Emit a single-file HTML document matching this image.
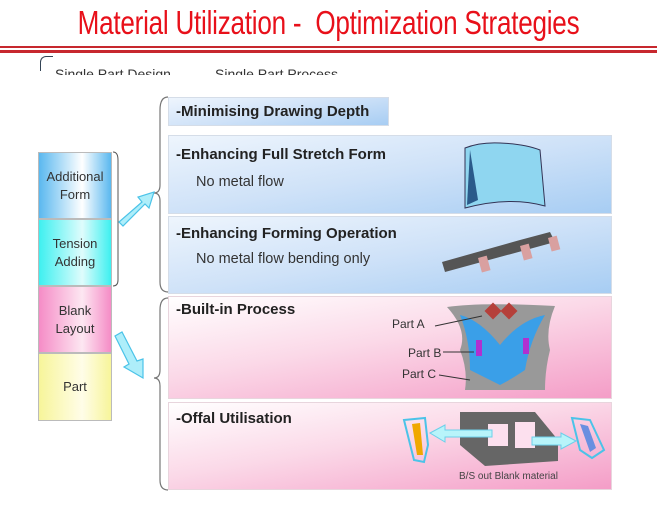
<!DOCTYPE html>
<html><head><style>
body{margin:0;width:657px;height:517px;background:#fff;position:relative;overflow:hidden;font-family:"Liberation Sans",sans-serif}
.a{position:absolute}
.t{font-weight:bold;font-size:15px;color:#222}
.s{font-size:14.5px;color:#333}
.blue{background:linear-gradient(170deg,#eef5fd 0%,#cfe2f8 50%,#a7cdf3 100%);border:1px solid #d5dde8}
.pink{background:linear-gradient(170deg,#fff 0%,#fbd9e8 45%,#f49dc7 100%);border:1px solid #e8d5dd}
.c{position:absolute;left:38px;width:74px;display:flex;align-items:center;justify-content:center;text-align:center;font-size:13px;color:#333;line-height:18px;border:1px solid #bbb;box-sizing:border-box}
</style></head><body>
<div class="a" style="left:0;top:4px;width:657px;text-align:center;color:#e8101a;font-size:33px;transform:scaleX(0.79);letter-spacing:-0.3px">Material Utilization -&nbsp; Optimization Strategies</div>
<div class="a" style="left:0;top:46px;width:657px;height:2px;background:#c7282e"></div>
<div class="a" style="left:0;top:50px;width:657px;height:3px;background:#c7282e"></div>
<div class="a" style="left:40px;top:56px;width:12px;height:14px;border-left:1px solid #345;border-top:1px solid #345;border-radius:6px 0 0 0"></div>
<div class="a" style="left:55px;top:65px;font-size:14px;color:#333;height:10px;overflow:hidden;line-height:18px">Single Part Design</div>
<div class="a" style="left:215px;top:65px;font-size:14px;color:#333;height:10px;overflow:hidden;line-height:18px">Single Part Process</div>

<div class="c" style="top:152px;height:67px;background:linear-gradient(90deg,#5ab8ef,#fff 60%,#5ab8ef)">Additional<br>Form</div>
<div class="c" style="top:219px;height:67px;background:linear-gradient(90deg,#3ef0f0,#dffcfc 60%,#3ef0f0)">Tension<br>Adding</div>
<div class="c" style="top:286px;height:67px;background:linear-gradient(90deg,#f58cc6,#fde7f2 60%,#f58cc6)">Blank<br>Layout</div>
<div class="c" style="top:353px;height:68px;background:linear-gradient(90deg,#f7f59a,#fffde8 60%,#f7f59a)">Part</div>

<svg class="a" style="left:0;top:0" width="657" height="517">
<path d="M113 152 Q118 152 118 160 L118 280 Q118 286 113 286" fill="none" stroke="#555" stroke-width="1"/>
<path d="M168 97 Q160 97 160 110 L160 185 Q160 193 154 193 Q160 193 160 201 L160 282 Q160 292 168 292" fill="none" stroke="#777" stroke-width="1.2"/>
<path d="M168 298 Q160 298 160 310 L160 370 Q160 378 154 378 Q160 378 160 386 L160 480 Q160 490 168 490" fill="none" stroke="#777" stroke-width="1.2"/>
<path d="M119 222 L142 202 L138 197 L154 192 L149 208 L145 204 L123 226 Z" fill="#aeeefa" stroke="#4bc3e8" stroke-width="1.2"/>
<path d="M115 336 L129 364 L124 367 L143 378 L143 359 L137 361 L122 332 Z" fill="#aeeefa" stroke="#4bc3e8" stroke-width="1.2"/>
</svg>

<div class="a blue" style="left:168px;top:97px;width:219px;height:27px"></div>
<div class="a t" style="left:176px;top:103px">-Minimising Drawing Depth</div>
<div class="a blue" style="left:168px;top:135px;width:442px;height:77px"></div>
<div class="a t" style="left:176px;top:146px">-Enhancing Full Stretch Form</div>
<div class="a s" style="left:196px;top:174px">No metal flow</div>
<div class="a blue" style="left:168px;top:216px;width:442px;height:76px"></div>
<div class="a t" style="left:176px;top:225px">-Enhancing Forming Operation</div>
<div class="a s" style="left:196px;top:251px">No metal flow bending only</div>
<div class="a pink" style="left:168px;top:296px;width:442px;height:101px"></div>
<div class="a t" style="left:176px;top:301px">-Built-in Process</div>
<div class="a pink" style="left:168px;top:402px;width:442px;height:86px"></div>
<div class="a t" style="left:176px;top:410px">-Offal Utilisation</div>

<svg class="a" style="left:0;top:0" width="657" height="517">
<path d="M465 148 Q480 142 500 143 Q525 144 540 150 L545 206 Q510 196 465 208 Z" fill="#8fd6f0" stroke="#335" stroke-width="1"/>
<path d="M470 150 L467 205 L478 200 Z" fill="#2a5a8a"/>
<path d="M442 262 L520 240 L550 232 L555 242 L445 272 Z" fill="#555"/>
<rect x="478" y="258" width="9" height="15" fill="#d9a0a0" transform="rotate(-15 478 258)"/>
<rect x="520" y="246" width="9" height="15" fill="#d9a0a0" transform="rotate(-15 520 246)"/>
<rect x="548" y="238" width="9" height="14" fill="#d9a0a0" transform="rotate(-15 548 238)"/>
<path d="M447 307 Q480 302 555 306 Q545 330 550 350 Q545 370 545 390 L465 390 Q468 370 460 350 Q468 330 447 307 Z" fill="#999"/>
<path d="M460 315 Q480 320 500 345 Q520 320 545 315 Q530 340 525 370 Q510 380 500 385 Q490 380 470 370 Q470 340 460 315 Z" fill="#3a9fe8"/>
<rect x="487" y="305" width="12" height="12" fill="#b5403a" transform="rotate(45 493 311)"/>
<rect x="503" y="305" width="12" height="12" fill="#b5403a" transform="rotate(45 509 311)"/>
<rect x="476" y="340" width="6" height="16" fill="#b030d0"/>
<rect x="523" y="338" width="6" height="16" fill="#b030d0"/>
<line x1="435" y1="326" x2="482" y2="316" stroke="#333"/>
<line x1="443" y1="352" x2="474" y2="352" stroke="#333"/>
<line x1="439" y1="375" x2="470" y2="380" stroke="#333"/>
<path d="M460 412 L535 412 L558 440 L558 461 L485 466 L460 445 Z" fill="#666"/>
<rect x="488" y="424" width="20" height="22" fill="#fce0ee"/>
<rect x="515" y="422" width="20" height="26" fill="#fce0ee"/>
<path d="M430 433 L445 425 L445 430 L492 430 L492 437 L445 437 L445 442 Z" fill="#b8f4fa" stroke="#6cd0ea"/>
<path d="M576 441 L561 433 L561 437 L532 437 L532 445 L561 445 L561 449 Z" fill="#b8f4fa" stroke="#6cd0ea"/>
<path d="M404 420 L425 418 L428 445 L424 462 L414 460 Z" fill="none" stroke="#4bc3e8" stroke-width="2"/>
<path d="M412 424 L420 423 L423 455 L417 455 Z" fill="#f0a800"/>
<path d="M572 418 L590 420 L604 450 L592 458 L580 450 Z" fill="none" stroke="#4bc3e8" stroke-width="2"/>
<path d="M580 424 L588 426 L596 448 L590 452 Z" fill="#6a8fe0"/>
</svg>
<div class="a" style="left:392px;top:317px;font-size:12px;color:#333">Part A</div>
<div class="a" style="left:408px;top:346px;font-size:12px;color:#333">Part B</div>
<div class="a" style="left:402px;top:367px;font-size:12px;color:#333">Part C</div>
<div class="a" style="left:459px;top:471px;font-size:10px;color:#444">B/S out Blank material</div>
</body></html>
